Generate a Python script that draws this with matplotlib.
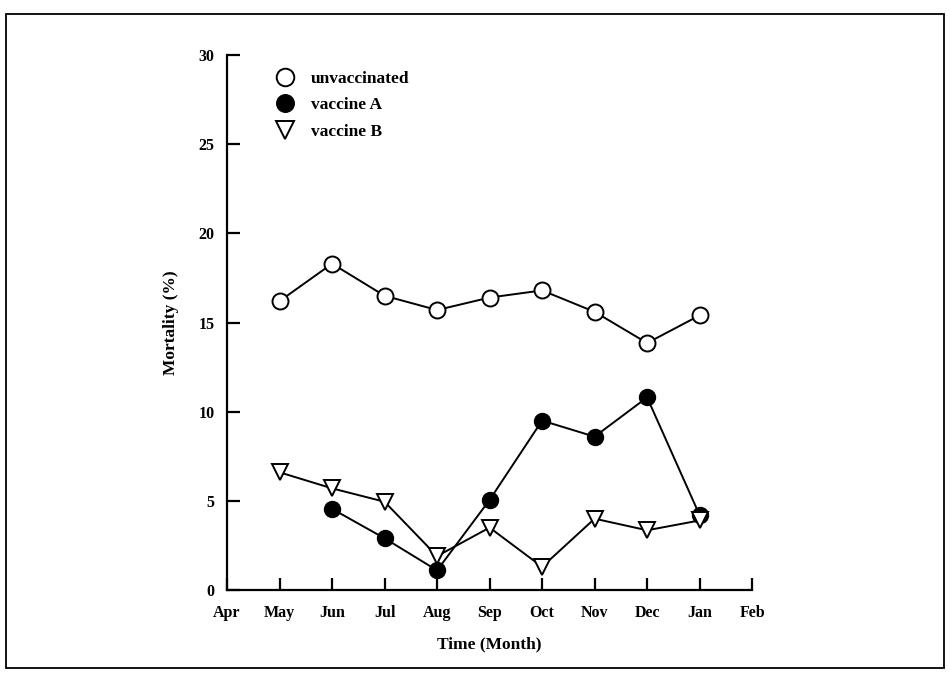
import numpy as np
import matplotlib.pyplot as plt
from matplotlib.patches import Rectangle

# month labels along the x axis (Apr = 0 ... Feb = 10)
months = ['Apr', 'May', 'Jun', 'Jul', 'Aug', 'Sep', 'Oct', 'Nov', 'Dec', 'Jan', 'Feb']

# mortality (%)
unvacc_x = [1, 2, 3, 4, 5, 6, 7, 8, 9]
unvacc_y = [16.2, 18.3, 16.5, 15.7, 16.4, 16.8, 15.6, 13.85, 15.4]

vaccA_x = [2, 3, 4, 5, 6, 7, 8, 9]
vaccA_y = [4.55, 2.9, 1.1, 5.05, 9.5, 8.6, 10.8, 4.2]

vaccB_x = [1, 2, 3, 4, 5, 6, 7, 8, 9]
vaccB_y = [6.6, 5.7, 4.95, 1.9, 3.5, 1.3, 4.0, 3.35, 3.9]

plt.rcParams['font.family'] = ['Liberation Serif', 'DejaVu Serif']

fig = plt.figure(figsize=(9.5, 6.76), dpi=100)
ax = fig.add_axes([0.239, 0.1272, 0.5527, 0.7914])

# scanned page frame
fig.patches.append(Rectangle((0.006, 0.012), 0.988, 0.968, transform=fig.transFigure,
                             fill=False, lw=1.3, edgecolor='black'))

ms = 11.5
ax.plot(unvacc_x, unvacc_y, '-o', color='black', mfc='white', mec='black', mew=1.4,
        ms=ms, lw=1.4, label='unvaccinated')
ax.plot(vaccA_x, vaccA_y, '-o', color='black', mfc='black', mec='black',
        ms=ms, lw=1.4, label='vaccine A')
ax.plot(vaccB_x, vaccB_y, '-v', color='black', mfc='white', mec='black', mew=1.4,
        ms=ms, lw=1.4, label='vaccine B')

ax.set_xlim(0, 10)
ax.set_ylim(0, 30)
ax.set_xticks(np.arange(len(months)))
ax.set_xticklabels(months)
ax.set_yticks([0, 5, 10, 15, 20, 25, 30])

for s in ['top', 'right']:
    ax.spines[s].set_visible(False)
for s in ['left', 'bottom']:
    ax.spines[s].set_linewidth(1.6)
ax.spines['left'].set_bounds(0, 30)

ax.tick_params(direction='in', length=9, width=1.6, labelsize=11.5)
ax.tick_params(axis='x', pad=11)
ax.tick_params(axis='y', pad=9)
for lab in ax.get_xticklabels() + ax.get_yticklabels():
    lab.set_fontweight('bold')

ax.set_xlabel('Time (Month)', fontsize=12.5, fontweight='bold', labelpad=11)
ax.set_ylabel('Mortality (%)', fontsize=12.5, fontweight='bold', labelpad=14)

ax.legend(loc='upper left', bbox_to_anchor=(0.06, 1.0), frameon=False,
          handlelength=1.2, handletextpad=0.9, labelspacing=0.6, markerscale=1.1,
          prop={'weight': 'bold', 'size': 12.5})
leg = ax.get_legend()
for line in leg.get_lines():
    line.set_linestyle('none')

plt.savefig('out.png', dpi=100)
